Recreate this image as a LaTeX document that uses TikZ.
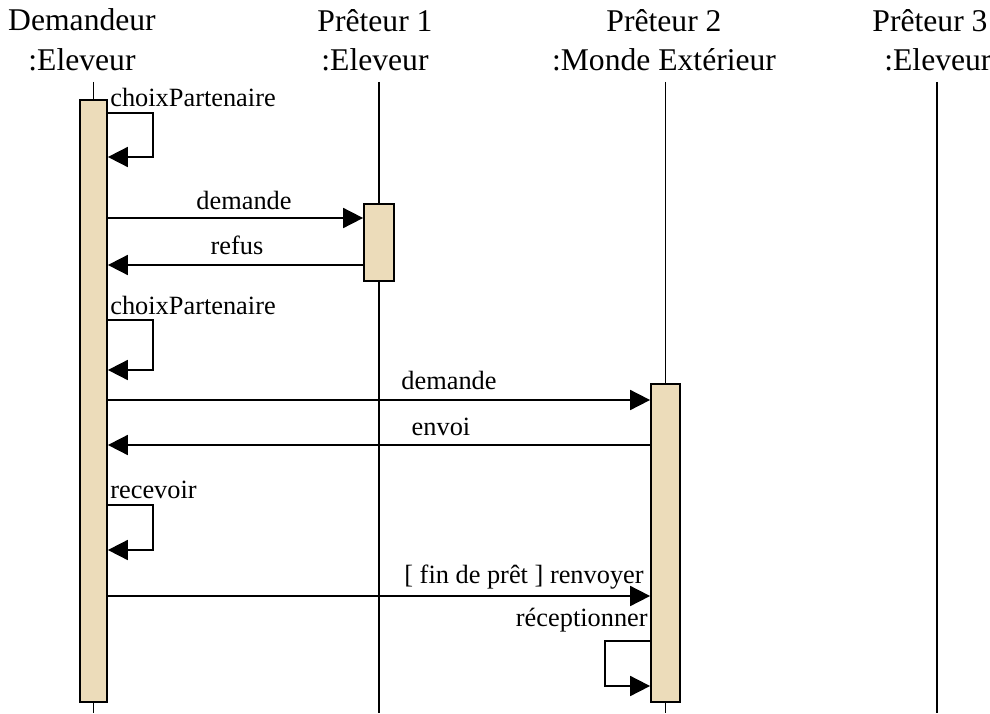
\documentclass[tikz,border=0pt]{standalone}
\usepackage{fontspec}
\setmainfont{Liberation Serif}
\usetikzlibrary{arrows.meta}
\definecolor{parchment}{RGB}{236,220,186}
\tikzset{
  bar/.style={draw, line width=1pt, fill=parchment, inner sep=0pt},
  msg/.style={line width=1pt, -{Triangle[length=0.4cm,width=0.4cm]}},
  lifeline/.style={line width=1pt},
  head/.style={align=center, inner sep=0pt, font=\fontsize{18}{22.5}\selectfont},
  lbl/.style={inner sep=0pt, font=\fontsize{15}{16}\selectfont}
}

\begin{document}
\begin{tikzpicture}[x=0.02cm, y=-0.02cm]
	%%%%% START %%%%%
	\useasboundingbox (0,0) rectangle (990,713);
	
	\node[head] (hdem) at (82,40) {Demandeur\\:Eleveur};
	\node[head] (hp1) at (375,40) {Pr\^eteur 1\\:Eleveur};
	\node[head] (hp2) at (664,40) {Pr\^eteur 2\\:Monde Ext\'erieur};
	\node[head] (hp3) at (930,40) {Pr\^eteur 3\\\hphantom{x}:Eleveur};
	
	\coordinate (tdem) at (93.5,82);
	\coordinate (bdem) at (93.5,713);
	\coordinate (tp1) at (379,82);
	\coordinate (bp1) at (379,713);
	\coordinate (tp2) at (665.5,82);
	\coordinate (bp2) at (665.5,713);
	\coordinate (tp3) at (937,82);
	\coordinate (bp3) at (937,713);
	
	\draw[lifeline] (tdem) -- (bdem);
	\draw[lifeline] (tp1) -- (bp1);
	\draw[lifeline] (tp2) -- (bp2);
	\draw[lifeline] (tp3) -- (bp3);
	
	\node[bar, minimum width=0.54cm, minimum height=12.04cm] (dem) at (93.5,401) {};
	\node[bar, minimum width=0.6cm, minimum height=1.54cm] (p1) at (379,242.5) {};
	\node[bar, minimum width=0.58cm, minimum height=6.36cm] (p2) at (665.5,543) {};
	
	% choixPartenaire
	\draw[msg] (dem.east |- 0,113) -| (153,157) -- (dem.east |- 0,157);
	\node[lbl, anchor=west] (l1) at (110,97) {choixPartenaire};
	
	\draw[msg] (dem.east |- 0,218) -- (p1.west |- 0,218);
	\node[lbl] (l2) at (244,200) {demande};
	\draw[msg] (p1.west |- 0,265) -- (dem.east |- 0,265);
	\node[lbl] (l3) at (237,245) {refus};
	
	% choixPartenaire
	\draw[msg] (dem.east |- 0,320) -| (153,370) -- (dem.east |- 0,370);
	\node[lbl, anchor=west] (l4) at (110,305) {choixPartenaire};
	
	\draw[msg] (dem.east |- 0,400) -- (p2.west |- 0,400);
	\node[lbl] (l5) at (449,380) {demande};
	\draw[msg] (p2.west |- 0,445) -- (dem.east |- 0,445);
	\node[lbl] (l6) at (441,427) {envoi};
	
	% recevoir
	\draw[msg] (dem.east |- 0,505) -| (153,550) -- (dem.east |- 0,550);
	\node[lbl, anchor=west] (l7) at (110,490) {recevoir};
	
	\draw[msg] (dem.east |- 0,596) -- (p2.west |- 0,596);
	\node[lbl] (l8) at (524,577) {[ fin de pr\^et ] renvoyer};
	
	% receptionner
	\draw[msg] (p2.west |- 0,641) -| (605,686) -- (p2.west |- 0,686);
	\node[lbl, anchor=east] (l9) at (648,620) {r\'eceptionner};
	
	%%%%% END %%%%%
\end{tikzpicture}
\end{document}
